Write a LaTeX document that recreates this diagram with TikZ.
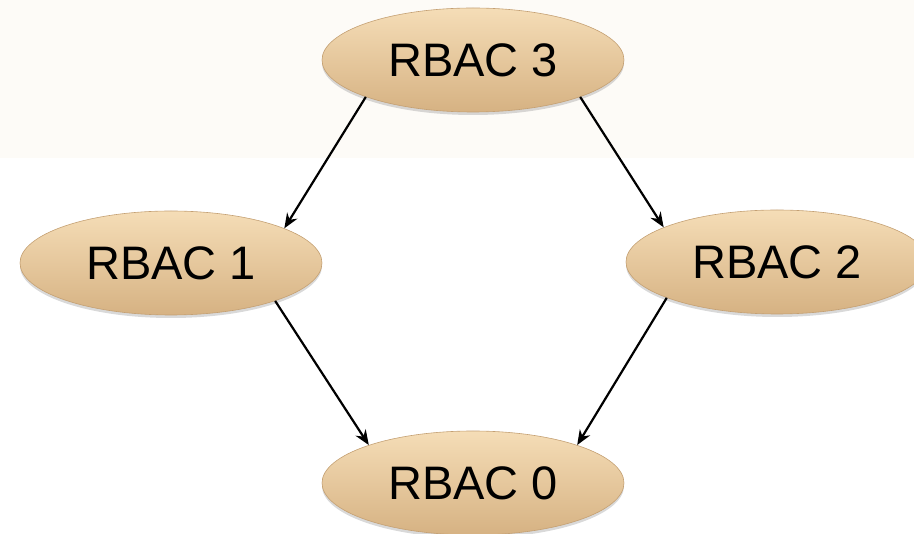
\documentclass[tikz,border=0pt]{standalone}
\usepackage{fontspec}
\setmainfont{Liberation Sans}
\usetikzlibrary{shapes.geometric,arrows.meta,shadows}
\definecolor{bandbg}{HTML}{FDFBF7}
\definecolor{ovtop}{HTML}{F5DDB7}
\definecolor{ovmid}{HTML}{F0D4A9}
\definecolor{ovbot}{HTML}{D6B283}
\definecolor{ovedge}{HTML}{C4A073}
\tikzset{
  oval/.style={ellipse, inner sep=0pt, minimum width=302pt, minimum height=104pt,
    top color=ovtop, middle color=ovmid, bottom color=ovbot, draw=ovedge, line width=0.6pt,
    drop shadow={opacity=0.3, shadow xshift=0pt, shadow yshift=-3pt},
    font=\fontsize{47}{52}\selectfont},
  conn/.style={-{Stealth[length=15pt,width=12pt]}, line width=2.2pt, black}
}
\begin{document}
\begin{tikzpicture}[x=1pt,y=-1pt]
\useasboundingbox (0,0) rectangle (914,534);
\fill[bandbg] (0,0) rectangle (914,158);
\node[oval] (r3) at (473,60) {RBAC 3};
\node[oval] (r1) at (171,263) {RBAC 1};
\node[oval] (r2) at (777,262) {RBAC 2};
\node[oval] (r0) at (473,483) {RBAC 0};
\draw[conn] (r3.199) -- (r1.17);
\draw[conn] (r3.341) -- (r2.163);
\draw[conn] (r1.340) -- (r0.160);
\draw[conn] (r2.198) -- (r0.20);
\end{tikzpicture}
\end{document}
